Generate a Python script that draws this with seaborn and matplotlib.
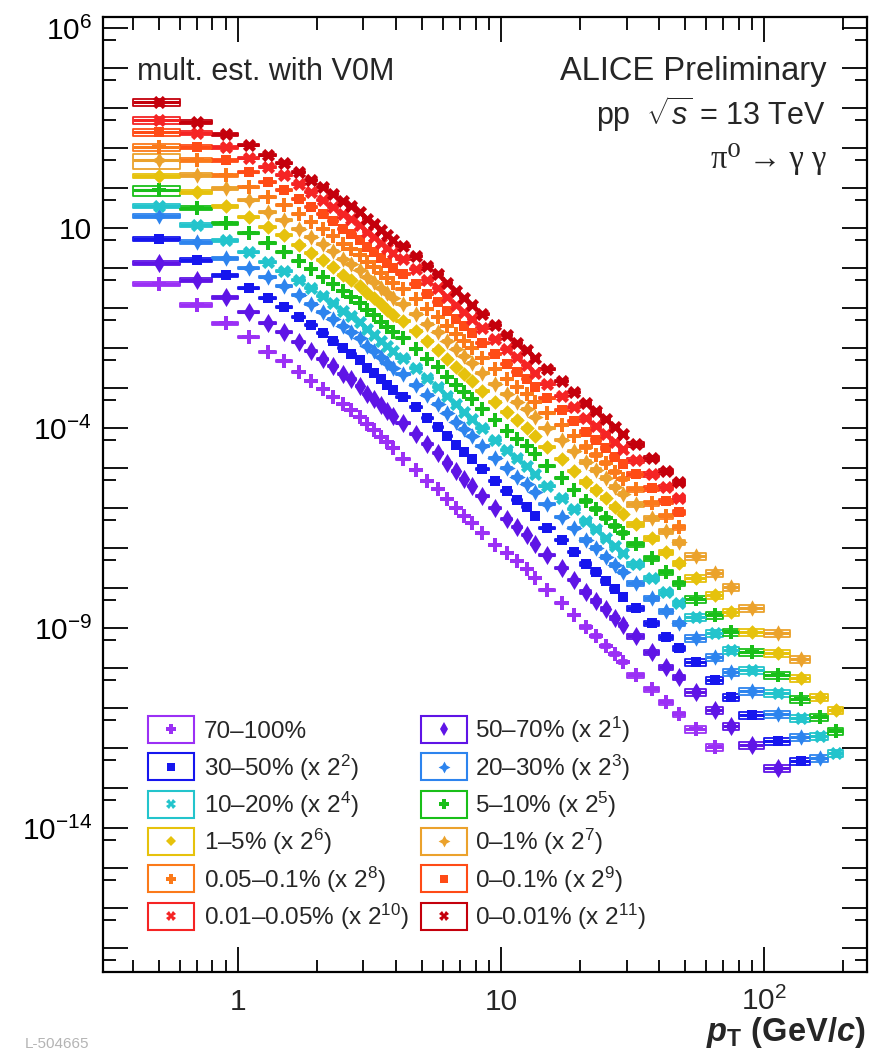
import numpy as np
import matplotlib
matplotlib.use("Agg")
import matplotlib.pyplot as plt
from matplotlib.patches import Rectangle
from matplotlib.collections import PatchCollection
from matplotlib.ticker import FixedLocator, FuncFormatter, NullFormatter
from matplotlib.transforms import blended_transform_factory
import seaborn as sns

sns.set_theme(style="ticks")
plt.rcParams["font.family"] = ["Liberation Sans", "DejaVu Sans"]
plt.rcParams["mathtext.fontset"] = "custom"
plt.rcParams["mathtext.rm"] = "Liberation Sans"
plt.rcParams["mathtext.it"] = "Liberation Sans:italic"
plt.rcParams["mathtext.bf"] = "Liberation Sans:bold"
try:
    plt.rcParams["mathtext.bfit"] = "Liberation Sans:italic:bold"
except KeyError:
    pass

# ---------------------------------------------------------------- data
# pT bin edges (GeV/c); every class starts at the first bin
pt_edges = [0.4, 0.6, 0.8, 1.0, 1.2, 1.4, 1.6, 1.8, 2.0, 2.2, 2.4, 2.6, 2.8,
            3.0, 3.2, 3.4, 3.6, 3.8, 4.0, 4.5, 5.0, 5.5, 6.0, 6.5, 7.0, 7.5,
            8.0, 9, 10, 11, 12, 13, 14, 16, 18, 20, 22, 24, 26, 28, 30, 35,
            40, 45, 50, 60, 70, 80, 100, 125, 150, 175, 200]

# invariant yields as drawn (already multiplied by the 2^k factor of each class)
spec_70_100 = [0.398, 0.119, 4.22e-2, 1.88e-2, 7.94e-3, 4.73e-3, 2.51e-3, 1.5e-3, 9.44e-4, 5.96e-4,
               3.98e-4, 2.82e-4, 1.88e-4, 1.26e-4, 8.91e-5, 5.96e-5, 4.47e-5, 3.16e-5, 1.68e-5, 8.91e-6,
               4.73e-6, 2.99e-6, 1.68e-6, 1.0e-6, 6.31e-7, 4.22e-7, 2.37e-7, 1.19e-7, 7.5e-8, 4.73e-8,
               2.99e-8, 1.78e-8, 8.91e-9, 4.22e-9, 2.11e-9, 1.06e-9, 6.31e-10, 3.55e-10, 2.24e-10, 1.41e-10,
               6.68e-11, 2.99e-11, 1.41e-11, 7.08e-12, 2.99e-12, 1.06e-12]
spec_50_70 = [1.33, 0.501, 0.188, 7.94e-2, 4.22e-2, 2.51e-2, 1.41e-2, 8.41e-3, 5.31e-3, 3.55e-3,
              2.24e-3, 1.68e-3, 1.12e-3, 7.08e-4, 5.31e-4, 3.76e-4, 2.66e-4, 2.0e-4, 1.33e-4, 7.08e-5,
              3.98e-5, 2.37e-5, 1.33e-5, 8.41e-6, 5.31e-6, 3.55e-6, 2.0e-6, 1.0e-6, 5.31e-7, 3.35e-7,
              2.11e-7, 1.26e-7, 6.68e-8, 3.16e-8, 1.58e-8, 7.94e-9, 4.73e-9, 2.99e-9, 1.78e-9, 1.19e-9,
              6.31e-10, 2.51e-10, 1.06e-10, 5.96e-11, 2.51e-11, 8.91e-12, 3.55e-12, 1.19e-12, 3.16e-13]
spec_30_50 = [5.31, 1.58, 0.668, 0.316, 0.178, 0.106, 5.96e-2, 3.76e-2, 2.37e-2, 1.5e-2,
              1.0e-2, 7.08e-3, 5.01e-3, 3.16e-3, 2.37e-3, 1.68e-3, 1.19e-3, 8.91e-4, 5.96e-4, 3.35e-4,
              1.78e-4, 1.06e-4, 6.31e-5, 3.76e-5, 2.51e-5, 1.68e-5, 9.44e-6, 4.73e-6, 2.66e-6, 1.58e-6,
              1.06e-6, 6.31e-7, 3.16e-7, 1.58e-7, 7.94e-8, 3.98e-8, 2.51e-8, 1.5e-8, 9.44e-9, 5.96e-9,
              3.16e-9, 1.33e-9, 5.96e-10, 3.16e-10, 1.41e-10, 5.01e-11, 1.88e-11, 6.68e-12, 1.5e-12, 4.73e-13]
spec_20_30 = [20.0, 4.47, 1.78, 1.0, 0.596, 0.355, 0.211, 0.126, 7.94e-2, 5.31e-2,
              3.55e-2, 2.51e-2, 1.78e-2, 1.12e-2, 8.41e-3, 5.96e-3, 4.22e-3, 3.16e-3, 2.24e-3, 1.19e-3,
              6.68e-4, 3.98e-4, 2.37e-4, 1.41e-4, 9.44e-5, 6.31e-5, 3.55e-5, 1.78e-5, 1.0e-5, 5.96e-6,
              3.98e-6, 2.51e-6, 1.26e-6, 5.96e-7, 3.16e-7, 1.58e-7, 1.0e-7, 5.96e-8, 3.76e-8, 2.51e-8,
              1.33e-8, 5.62e-9, 2.66e-9, 1.33e-9, 5.62e-10, 1.88e-10, 7.94e-11, 2.66e-11, 7.08e-12, 1.88e-12,
              5.62e-13]
spec_10_20 = [35.5, 11.9, 5.01, 2.51, 1.41, 0.841, 0.501, 0.316, 0.2, 0.133,
              8.41e-2, 6.31e-2, 4.47e-2, 2.99e-2, 2.11e-2, 1.5e-2, 1.12e-2, 8.41e-3, 5.62e-3, 3.16e-3,
              1.78e-3, 1.06e-3, 6.31e-4, 3.98e-4, 2.51e-4, 1.68e-4, 1.0e-4, 5.01e-5, 2.82e-5, 1.78e-5,
              1.12e-5, 7.08e-6, 3.55e-6, 1.78e-6, 9.44e-7, 4.73e-7, 2.99e-7, 1.78e-7, 1.12e-7, 7.5e-8,
              3.98e-8, 1.78e-8, 7.94e-9, 4.22e-9, 1.88e-9, 7.5e-10, 2.82e-10, 8.91e-11, 2.37e-11, 5.62e-12,
              2.0e-12, 7.5e-13]
spec_5_10 = [89.1, 31.6, 13.3, 7.5, 4.22, 2.51, 1.5, 0.944, 0.596, 0.398,
             0.266, 0.188, 0.133, 8.91e-2, 6.68e-2, 4.47e-2, 3.35e-2, 2.51e-2, 1.78e-2, 9.44e-3,
             5.31e-3, 3.35e-3, 1.88e-3, 1.19e-3, 7.94e-4, 5.31e-4, 2.99e-4, 1.58e-4, 8.41e-5, 5.31e-5,
             3.55e-5, 2.24e-5, 1.12e-5, 5.62e-6, 2.82e-6, 1.5e-6, 9.44e-7, 5.62e-7, 3.55e-7, 2.37e-7,
             1.26e-7, 5.62e-8, 2.51e-8, 1.33e-8, 5.31e-9, 2.11e-9, 7.94e-10, 2.51e-10, 6.68e-11, 1.68e-11,
             5.96e-12, 2.66e-12]
spec_1_5 = [2.0e2, 79.4, 35.5, 18.8, 10.6, 6.68, 3.76, 2.37, 1.58, 1.06,
            0.668, 0.501, 0.355, 0.237, 0.178, 0.126, 8.91e-2, 6.68e-2, 4.73e-2, 2.66e-2,
            1.5e-2, 8.91e-3, 5.31e-3, 3.35e-3, 2.24e-3, 1.5e-3, 8.41e-4, 4.47e-4, 2.51e-4, 1.58e-4,
            1.0e-4, 6.31e-5, 3.35e-5, 1.68e-5, 8.41e-6, 4.47e-6, 2.82e-6, 1.78e-6, 1.06e-6, 7.08e-7,
            3.98e-7, 1.78e-7, 7.94e-8, 4.22e-8, 1.78e-8, 6.68e-9, 2.51e-9, 7.94e-10, 2.37e-10, 5.62e-11,
            1.88e-11, 8.91e-12]
spec_0_1 = [5.01e2, 2.11e2, 1.0e2, 50.1, 25.1, 15.8, 9.44, 5.96, 3.98, 2.66,
            1.68, 1.26, 0.891, 0.596, 0.447, 0.316, 0.237, 0.178, 0.126, 7.08e-2,
            3.98e-2, 2.51e-2, 1.5e-2, 9.44e-3, 6.31e-3, 4.22e-3, 2.37e-3, 1.26e-3, 7.08e-4, 4.47e-4,
            2.99e-4, 1.88e-4, 1.0e-4, 5.01e-5, 2.66e-5, 1.41e-5, 8.91e-6, 5.62e-6, 3.35e-6, 2.24e-6,
            1.26e-6, 5.62e-7, 2.66e-7, 1.41e-7, 6.31e-8, 2.37e-8, 1.06e-8, 3.16e-9, 7.5e-10, 1.68e-10]
spec_005_01 = [1.06e3, 5.01e2, 2.11e2, 1.06e2, 59.6, 37.6, 22.4, 14.1, 9.44, 6.31,
               3.98, 2.99, 2.11, 1.41, 1.06, 0.75, 0.562, 0.422, 0.299, 0.168,
               9.44e-2, 5.96e-2, 3.55e-2, 2.24e-2, 1.5e-2, 1.0e-2, 5.62e-3, 2.99e-3, 1.68e-3, 1.06e-3,
               7.08e-4, 4.47e-4, 2.37e-4, 1.19e-4, 6.31e-5, 3.35e-5, 2.11e-5, 1.33e-5, 7.94e-6, 5.31e-6,
               2.99e-6, 1.33e-6, 6.31e-7, 3.35e-7]
spec_0_01 = [2.51e3, 1.06e3, 5.01e2, 2.51e2, 1.41e2, 89.1, 53.1, 33.5, 22.4, 15.0,
             9.44, 7.08, 5.01, 3.35, 2.51, 1.78, 1.33, 1.0, 0.708, 0.398,
             0.224, 0.141, 8.41e-2, 5.31e-2, 3.55e-2, 2.37e-2, 1.33e-2, 7.08e-3, 3.98e-3, 2.51e-3,
             1.68e-3, 1.06e-3, 5.62e-4, 2.82e-4, 1.5e-4, 7.94e-5, 5.01e-5, 3.16e-5, 1.88e-5, 1.26e-5,
             7.08e-6, 3.16e-6, 1.5e-6, 7.94e-7]
spec_001_005 = [5.01e3, 2.37e3, 1.06e3, 5.62e2, 3.35e2, 2.11e2, 1.26e2, 79.4, 50.1, 33.5,
                22.4, 16.8, 11.9, 7.94, 5.96, 4.22, 3.16, 2.37, 1.68, 0.944,
                0.501, 0.316, 0.188, 0.119, 7.94e-2, 5.31e-2, 3.16e-2, 1.68e-2, 9.44e-3, 5.96e-3,
                3.76e-3, 2.37e-3, 1.26e-3, 6.31e-4, 3.35e-4, 1.78e-4, 1.12e-4, 7.08e-5, 4.47e-5, 2.99e-5,
                1.58e-5, 7.08e-6, 3.35e-6, 1.78e-6]
spec_0_001 = [1.41e4, 4.47e3, 2.24e3, 1.19e3, 6.68e2, 4.22e2, 2.51e2, 1.58e2, 1.06e2, 70.8,
              47.3, 35.5, 25.1, 16.8, 12.6, 8.91, 6.68, 5.01, 3.55, 2.0,
              1.12, 0.708, 0.422, 0.266, 0.178, 0.119, 7.08e-2, 3.76e-2, 2.11e-2, 1.33e-2,
              8.91e-3, 5.62e-3, 2.99e-3, 1.5e-3, 7.94e-4, 4.22e-4, 2.66e-4, 1.68e-4, 1.06e-4, 7.08e-5,
              3.98e-5, 1.78e-5, 8.41e-6, 4.47e-6]

# relative systematic uncertainty per pT bin, and for the first bin of each class
sys_rel = [0.18, 0.12, 0.08] + [0.05] * 15 + [0.06] * 17 + [0.10] * 5 + [0.14] * 4 + [0.20] * 8
sys_first = [0.10, 0.10, 0.12, 0.12, 0.12, 0.30, 0.12, 0.40, 0.18, 0.18, 0.18, 0.18]

classes = ["70–100%", "50–70%", "30–50%", "20–30%", "10–20%", "5–10%",
           "1–5%", "0–1%", "0.05–0.1%", "0–0.1%", "0.01–0.05%", "0–0.01%"]
scale_exp = [0, 1, 2, 3, 4, 5, 6, 7, 8, 9, 10, 11]
spectra = [spec_70_100, spec_50_70, spec_30_50, spec_20_30, spec_10_20, spec_5_10,
           spec_1_5, spec_0_1, spec_005_01, spec_0_01, spec_001_005, spec_0_001]

# ---------------------------------------------------------------- style
colors = ["#9b30f5", "#5f14e6", "#1616ee", "#2d84ee", "#23c4cc", "#19bf19",
          "#e6c20c", "#eba22c", "#fb7a1a", "#ff4b16", "#f52424", "#c4000c"]
star4 = (4, 1, 0)
markers = ["P", "d", "s", star4, "X", "P", "D", star4, "P", "s", "X", "X"]
msize = {"P": 100, "d": 95, "s": 60, star4: 140, "X": 90, "D": 55}
lmsize = {"P": 7, "d": 7, "s": 5.5, star4: 8.5, "X": 6.5, "D": 5}

W, H = 871, 1053
fig = plt.figure(figsize=(W / 100, H / 100), dpi=100)
ax = fig.add_axes([103 / W, 1 - 972 / H, (867 - 103) / W, (972 - 17) / H])
ax.set_xscale("log")
ax.set_yscale("log")

edges = np.array(pt_edges)
for k, vals in enumerate(spectra):
    vals = np.array(vals)
    n = len(vals)
    lo, hi = edges[:n], edges[1:n + 1]
    ctr = 0.5 * (lo + hi)
    srel = np.array(sys_rel[:n])
    srel[0] = sys_first[k]
    col = colors[k]
    boxes = [Rectangle((l, v * (1 - s)), h - l, 2 * s * v)
             for l, h, v, s in zip(lo, hi, vals, srel)]
    ax.add_collection(PatchCollection(boxes, facecolor="none", edgecolor=col,
                                      linewidth=1.3, zorder=2))
    ax.hlines(vals, lo, hi, colors=col, linewidth=2.2, zorder=3)
    sns.scatterplot(x=ctr, y=vals, ax=ax, marker=markers[k], color=col,
                    s=msize[markers[k]], linewidth=0, zorder=4, legend=False)

ax.set_xlim(0.307, 246)
ax.set_ylim(2.5e-18, 1.9e6)

# ---------------------------------------------------------------- axes
ax.yaxis.set_major_locator(FixedLocator([10.0 ** e for e in range(-17, 7)]))
ax.yaxis.set_minor_locator(FixedLocator([5 * 10.0 ** e for e in range(-18, 6)]))
ylabels = {6: r"$10^{6}$", 1: "10", -4: r"$10^{-4}$", -9: r"$10^{-9}$", -14: r"$10^{-14}$"}
ax.yaxis.set_major_formatter(FuncFormatter(lambda v, p: ylabels.get(int(round(np.log10(v))), "")))
ax.yaxis.set_minor_formatter(NullFormatter())

xminor = [0.4, 0.5, 0.6, 0.7, 0.8, 0.9, 2, 3, 4, 5, 6, 7, 8, 9,
          20, 30, 40, 50, 60, 70, 80, 90, 200]
ax.xaxis.set_major_locator(FixedLocator([1, 10, 100]))
ax.xaxis.set_minor_locator(FixedLocator(xminor))
ax.xaxis.set_major_formatter(NullFormatter())
ax.xaxis.set_minor_formatter(NullFormatter())

ax.tick_params(which="both", direction="in", top=True, right=True,
               color="black", width=1.3, labelsize=21.5, labelcolor="black")
ax.tick_params(which="major", length=18)
ax.tick_params(which="minor", length=9)
ax.tick_params(axis="y", pad=8)
for sp in ax.spines.values():
    sp.set_visible(True)
    sp.set_linewidth(1.6)
    sp.set_color("black")
ax.set_facecolor("white")
ax.grid(False)

xt = blended_transform_factory(ax.transData, ax.transAxes)
for v, lab in [(1, "1"), (10, "10"), (100, r"$10^{2}$")]:
    ax.text(v, -0.040, lab, transform=xt, ha="center", va="baseline", fontsize=21.5)


def fx(px):
    return px / W


def fy(py):
    return 1 - py / H


# ---------------------------------------------------------------- annotations
fig.text(fx(137), fy(80), "mult. est. with V0M", ha="left", va="baseline", fontsize=22)
fig.text(fx(826), fy(80), "ALICE Preliminary", ha="right", va="baseline", fontsize=23.5)
fig.text(fx(826), fy(125), r"pp  $\sqrt{s}$ = 13 TeV", ha="right", va="baseline", fontsize=22)
fig.text(fx(826), fy(168), "π⁰ → γ γ", ha="right", va="baseline", fontsize=23.5,
         family=["Liberation Serif", "DejaVu Serif"])

fig.text(fx(865), fy(1041), r"$\mathbfit{p}_{\mathbf{T}}$ $\mathbf{(GeV/}\mathbfit{c}\mathbf{)}$",
         ha="right", va="baseline", fontsize=23.5)
fig.text(fx(25), fy(1051), "L-504665", ha="left", va="bottom", fontsize=11, color="#b4b4b4")

# ---------------------------------------------------------------- legend
def axfrac(px, py):
    return (px - 103) / 764, (972 - py) / 955


box_left = [148, 421]
text_left = [204, 475]
for k, name in enumerate(classes):
    row, colm = divmod(k, 2)
    yc = 729.3 + 37.35 * row
    x0, y0 = axfrac(box_left[colm], yc + 13.5)
    x1, y1 = axfrac(box_left[colm] + 46, yc - 13.5)
    ax.add_patch(Rectangle((x0, y0), x1 - x0, y1 - y0, transform=ax.transAxes,
                           facecolor="none", edgecolor=colors[k], linewidth=1.5,
                           zorder=5, clip_on=False))
    mx, my = axfrac(box_left[colm] + 23, yc)
    ax.plot([mx], [my], transform=ax.transAxes, marker=markers[k], ms=lmsize[markers[k]],
            color=colors[k], markeredgewidth=0, ls="none", zorder=6, clip_on=False)
    label = name if scale_exp[k] == 0 else name + r" (x 2$^{%d}$)" % scale_exp[k]
    tx, ty = axfrac(text_left[colm], yc + 9)
    ax.text(tx, ty, label, transform=ax.transAxes, ha="left", va="baseline",
            fontsize=17.5, zorder=6)

fig.savefig("out.png", dpi=100)
